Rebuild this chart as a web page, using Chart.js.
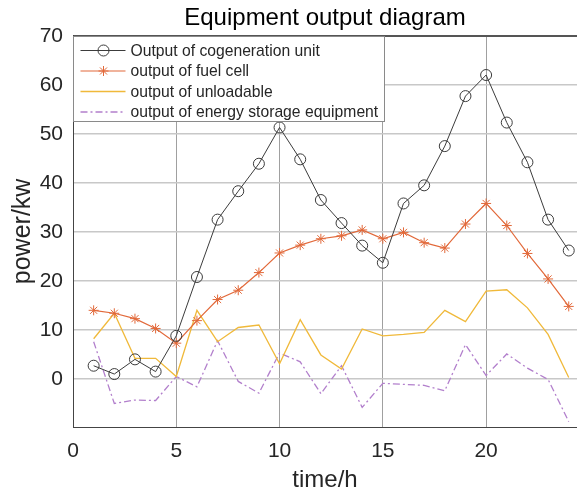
<!DOCTYPE html>
<html>
<head>
<meta charset="utf-8">
<script src="https://cdn.jsdelivr.net/npm/chart.js@4.4.1/dist/chart.umd.min.js"></script>
<style>
  html, body { margin: 0; padding: 0; background: #fff; }
  #wrap { width: 577px; height: 496px; }
</style>
</head>
<body>
<div id="wrap"><canvas id="c" width="577" height="496"></canvas></div>
<script>
// ---- data ----
const hours = [1,2,3,4,5,6,7,8,9,10,11,12,13,14,15,16,17,18,19,20,21,22,23,24];
const cogeneration = [2.7, 1.0, 4.0, 1.5, 8.8, 20.8, 32.5, 38.3, 43.9, 51.3, 44.8, 36.5, 31.8, 27.2, 23.7, 35.8, 39.5, 47.5, 57.7, 62.0, 52.3, 44.2, 32.5, 26.2];
const fuelCell = [14.0, 13.4, 12.3, 10.3, 7.3, 11.9, 16.2, 18.1, 21.7, 25.7, 27.3, 28.6, 29.2, 30.4, 28.6, 29.9, 27.8, 26.7, 31.6, 35.8, 31.3, 25.6, 20.4, 14.8];
const unloadable = [8.2, 13.4, 4.2, 4.2, 0.5, 14.0, 7.6, 10.5, 11.0, 3.1, 12.1, 4.9, 2.0, 10.2, 8.8, 9.1, 9.5, 14.0, 11.7, 17.9, 18.2, 14.5, 9.1, 0.3];
const storage = [7.6, -5.0, -4.3, -4.4, 0.5, -1.6, 7.8, -0.5, -2.9, 5.3, 3.5, -3.0, 2.7, -5.8, -0.9, -1.1, -1.3, -2.4, 7.0, 0.7, 5.1, 2.2, -0.1, -8.7];
const seriesLabels = ['Output of cogeneration unit', 'output of fuel cell', 'output of unloadable', 'output of energy storage equipment'];
const xTicks = [0, 5, 10, 15, 20];
const yTicks = [0, 10, 20, 30, 40, 50, 60, 70];
const titleText = 'Equipment output diagram';
const xTitle = 'time/h';
const yTitle = 'power/kw';

const FONT = "'Liberation Sans', Arial, sans-serif";
const pts = vals => hours.map((h, i) => ({ x: h, y: vals[i] }));

const bgPlugin = {
  id: 'bg',
  beforeDraw(chart) {
    const ctx = chart.ctx;
    ctx.save();
    ctx.fillStyle = '#ffffff';
    ctx.fillRect(0, 0, chart.width, chart.height);
    ctx.restore();
  }
};

function drawMarker(ctx, style, x, y, r, color) {
  ctx.save();
  ctx.strokeStyle = color;
  ctx.lineWidth = 1;
  ctx.setLineDash([]);
  ctx.beginPath();
  if (style === 'circle') {
    ctx.arc(x, y, r, 0, Math.PI * 2);
  } else if (style === 'star') {
    for (let k = 0; k < 4; k++) {
      const a = k * Math.PI / 4;
      ctx.moveTo(x - r * Math.cos(a), y - r * Math.sin(a));
      ctx.lineTo(x + r * Math.cos(a), y + r * Math.sin(a));
    }
  }
  ctx.stroke();
  ctx.restore();
}

const legendPlugin = {
  id: 'boxLegend',
  afterDraw(chart) {
    const ctx = chart.ctx;
    const a = chart.chartArea;
    // top border of the axes box
    ctx.save();
    ctx.strokeStyle = '#555555';
    ctx.lineWidth = 1;
    ctx.beginPath();
    ctx.moveTo(a.left, Math.round(a.top) + 0.5);
    ctx.lineTo(a.right, Math.round(a.top) + 0.5);
    ctx.stroke();
    // legend box
    const bx = Math.round(a.left) + 0.5, by = Math.round(a.top) + 0.5;
    const bw = 311, bh = 85;
    ctx.fillStyle = '#ffffff';
    ctx.fillRect(bx, by, bw, bh);
    ctx.strokeStyle = '#8a8a8a';
    ctx.strokeRect(bx, by, bw, bh);
    const rowY = [50.5, 71, 91.5, 112];
    chart.data.datasets.forEach((ds, i) => {
      const y = rowY[i];
      ctx.save();
      ctx.strokeStyle = ds.borderColor;
      ctx.lineWidth = ds.borderWidth;
      ctx.setLineDash(ds.borderDash || []);
      ctx.beginPath();
      ctx.moveTo(bx + 7, y);
      ctx.lineTo(bx + 52, y);
      ctx.stroke();
      ctx.restore();
      if (ds.pointRadius > 0) {
        drawMarker(ctx, ds.pointStyle, bx + 30, y, ds.pointRadius, ds.pointBorderColor);
      }
      ctx.fillStyle = '#262626';
      ctx.font = '15.7px ' + FONT;
      ctx.textAlign = 'left';
      ctx.textBaseline = 'middle';
      ctx.fillText(ds.label, bx + 57, y + 1);
    });
    ctx.restore();
  }
};

new Chart(document.getElementById('c'), {
  type: 'scatter',
  data: {
    datasets: [
      {
        label: seriesLabels[0], data: pts(cogeneration), showLine: true,
        borderColor: '#3c3c3c', borderWidth: 1,
        pointStyle: 'circle', pointRadius: 5.5, pointBorderColor: '#3c3c3c',
        pointBackgroundColor: 'rgba(0,0,0,0)', pointBorderWidth: 1, pointHoverRadius: 5.5
      },
      {
        label: seriesLabels[1], data: pts(fuelCell), showLine: true,
        borderColor: '#e2693a', borderWidth: 1.2,
        pointStyle: 'star', pointRadius: 5, pointBorderColor: '#e2693a',
        pointBackgroundColor: '#e2693a', pointBorderWidth: 1, pointHoverRadius: 5
      },
      {
        label: seriesLabels[2], data: pts(unloadable), showLine: true,
        borderColor: '#f0b93a', borderWidth: 1.3, pointRadius: 0, pointHoverRadius: 0
      },
      {
        label: seriesLabels[3], data: pts(storage), showLine: true,
        borderColor: '#b27fcc', borderWidth: 1.3, borderDash: [7, 3, 2, 3],
        pointRadius: 0, pointHoverRadius: 0
      }
    ]
  },
  options: {
    responsive: false,
    animation: false,
    devicePixelRatio: 1,
    layout: { autoPadding: false, padding: { left: 0, right: 0, top: 0, bottom: 0 } },
    plugins: {
      legend: { display: false },
      tooltip: { enabled: false },
      title: {
        display: true, text: titleText, color: '#000000', fullSize: false,
        font: { family: FONT, size: 24, weight: 'normal' },
        padding: { top: 4, bottom: 3 }
      }
    },
    scales: {
      x: {
        type: 'linear', min: 0, max: 24.4,
        afterBuildTicks: s => { s.ticks = xTicks.map(v => ({ value: v })); },
        afterFit: s => { s.height = 69; s.paddingRight = 0; s.paddingLeft = 0; },
        ticks: { color: '#262626', font: { family: FONT, size: 21 }, padding: 12, maxRotation: 0 },
        grid: { color: '#a0a0a0', lineWidth: 1, drawTicks: false },
        border: { color: '#444444', width: 1 },
        title: { display: true, text: xTitle, color: '#262626', font: { family: FONT, size: 24 }, padding: { top: 0, bottom: 1 } }
      },
      y: {
        type: 'linear', min: -9.8, max: 70,
        afterBuildTicks: s => { s.ticks = yTicks.map(v => ({ value: v })); },
        ticks: { color: '#262626', font: { family: FONT, size: 21 }, padding: 10 },
        afterFit: s => { s.width = 73; s.paddingTop = 0; s.paddingBottom = 0; },
        grid: {
          color: c => (c.tick && c.tick.value === 70) ? '#555555' : '#c8c8c8',
          lineWidth: 1.4, drawTicks: false
        },
        border: { color: '#444444', width: 1 },
        title: { display: true, text: yTitle, color: '#262626', font: { family: FONT, size: 25 }, padding: { top: 8, bottom: 0 } }
      }
    }
  },
  plugins: [bgPlugin, legendPlugin]
});
</script>
</body>
</html>
